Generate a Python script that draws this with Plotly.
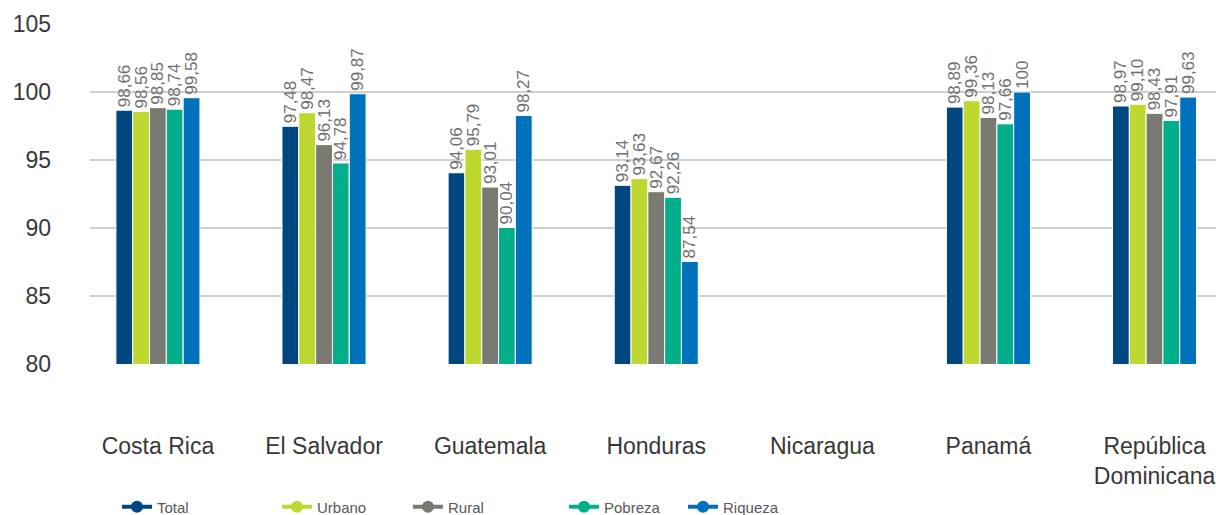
import plotly.graph_objects as go

countries = ["Costa Rica", "El Salvador", "Guatemala", "Honduras", "Nicaragua",
             "Panamá", "República<br>Dominicana"]

total   = [98.66, 97.48, 94.06, 93.14, None, 98.89, 98.97]
urbano  = [98.56, 98.47, 95.79, 93.63, None, 99.36, 99.10]
rural   = [98.85, 96.13, 93.01, 92.67, None, 98.13, 98.43]
pobreza = [98.74, 94.78, 90.04, 92.26, None, 97.66, 97.91]
riqueza = [99.58, 99.87, 98.27, 87.54, None, 100, 99.63]

series_names = ["Total", "Urbano", "Rural", "Pobreza", "Riqueza"]
series_values = [total, urbano, rural, pobreza, riqueza]
colors = ["#00467F", "#BFD730", "#7A7A73", "#03AF8B", "#0071BB"]
y_ticks = [80, 85, 90, 95, 100, 105]

FONT = "Liberation Sans, Arial, sans-serif"


def fmt(v):
    if v is None:
        return ""
    if float(v).is_integer():
        return str(int(v))
    return f"{v:.2f}".replace(".", ",")


fig = go.Figure()

# bars with rotated value labels
for name, vals, col in zip(series_names, series_values, colors):
    fig.add_trace(go.Bar(
        x=countries, y=vals, name=name,
        marker=dict(color=col, line=dict(color="white", width=1)),
        text=[fmt(v) for v in vals],
        textposition="outside", textangle=-90, constraintext="none",
        textfont=dict(family=FONT, size=17, color="#707070"),
        cliponaxis=False, showlegend=False,
    ))

# legend entries: line + circle marker, each in its own legend box
legend_x = [0.0962, 0.2278, 0.3355, 0.4638, 0.5617]
for i, (name, col) in enumerate(zip(series_names, colors)):
    key = "legend" if i == 0 else f"legend{i + 1}"
    fig.add_trace(go.Scatter(
        x=[None], y=[None], name=name, mode="lines+markers",
        line=dict(color=col, width=4),
        marker=dict(color=col, size=12, symbol="circle"),
        legend=key, showlegend=True,
    ))

layout_legends = {}
for i, lx in enumerate(legend_x):
    key = "legend" if i == 0 else f"legend{i + 1}"
    layout_legends[key] = dict(
        x=lx, y=0.0155, xref="container", yref="container",
        xanchor="left", yanchor="middle",
        orientation="h", bgcolor="rgba(0,0,0,0)",
        font=dict(family=FONT, size=15, color="#595959"),
    )

fig.update_layout(
    width=1216, height=515,
    margin=dict(l=90, r=0, t=24, b=151, autoexpand=False),
    paper_bgcolor="white", plot_bgcolor="white",
    barmode="group", bargap=0.494, bargroupgap=0,
    font=dict(family=FONT, color="#333333"),
    xaxis=dict(
        type="category", range=[-0.409, 6.370], automargin=False,
        showgrid=False, showline=False, zeroline=False, ticks="",
        tickfont=dict(family=FONT, size=23, color="#383838"),
        ticklabelstandoff=66,
    ),
    yaxis=dict(
        range=[80, 105], tickvals=y_ticks, automargin=False,
        showgrid=True, gridcolor="#D0D0D0", gridwidth=1.5,
        zeroline=False, showline=False, ticks="",
        tickfont=dict(family=FONT, size=23, color="#383838"),
        ticklabelstandoff=38,
    ),
    **layout_legends,
)

fig.write_html("out.html")
